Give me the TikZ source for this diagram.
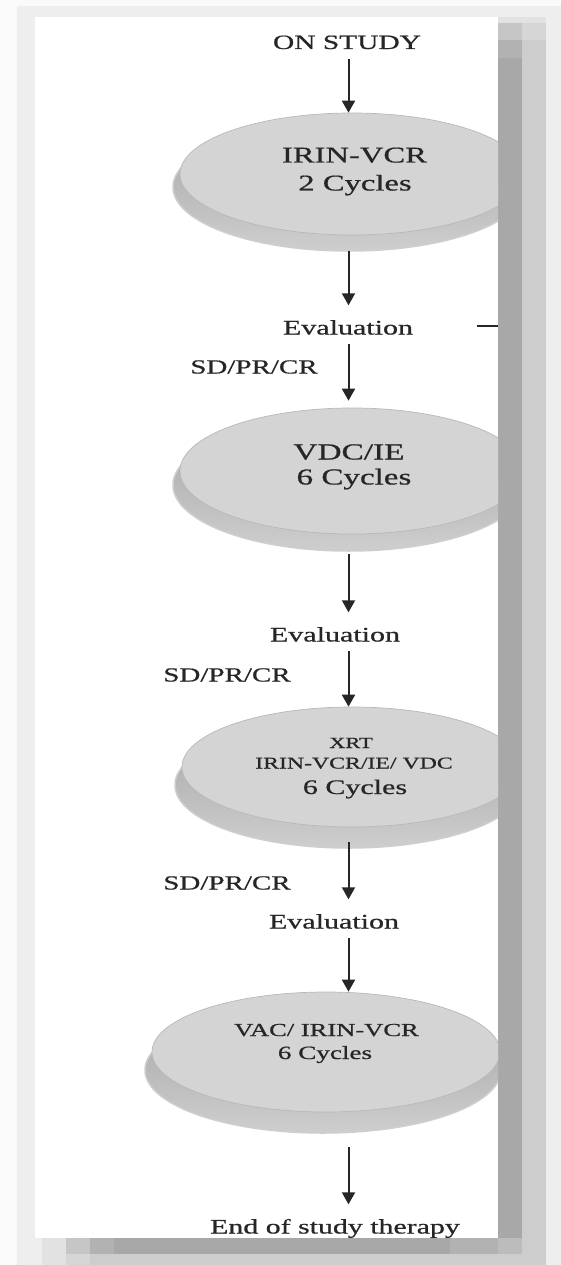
\documentclass[tikz,border=0pt]{standalone}
\usepackage{fontspec}
\setmainfont{Liberation Serif}[RawFeature={embolden=0.6}]
\usepackage{graphicx}
\usetikzlibrary{arrows.meta,shapes.geometric}

\definecolor{ink}{HTML}{262626}
\definecolor{facegray}{HTML}{D4D4D4}
\definecolor{edgegray}{HTML}{B8B8B8}
\definecolor{rimgray}{HTML}{C2C2C2}
\definecolor{rimedge}{HTML}{CECECE}
\definecolor{sh0}{HTML}{FAFAFA}
\definecolor{sh1}{HTML}{EEEEEE}
\definecolor{sh2}{HTML}{E2E2E2}
\definecolor{sh3}{HTML}{D6D6D6}
\definecolor{sh4}{HTML}{CDCDCD}
\definecolor{sh5}{HTML}{C6C6C6}
\definecolor{sh6}{HTML}{B2B2B2}
\definecolor{sh7}{HTML}{A8A8A8}
\definecolor{sh8}{HTML}{BCBCBC}

% horizontally widened lettering
\newcommand\wide[1]{\scalebox{1.45}[1]{#1}}
\newcommand\fsz[1]{\fontsize{#1}{#1}\selectfont}

\tikzset{
  txt/.style={inner sep=0pt, anchor=base, text=ink, text height=29pt, text depth=9.5pt},
  disktxt/.style={inner sep=0pt, anchor=base, text=ink},
  face/.style={ellipse, inner sep=0pt, fill=facegray, draw=edgegray, line width=0.7pt},
  rim/.style={top color=rimgray!85!black, bottom color=rimedge, draw=rimedge, line width=1.5pt},
  arr/.style={draw=ink, line width=2pt, -{Triangle[length=12pt,width=13pt]}},
}

\begin{document}
\begin{tikzpicture}[x=1pt,y=-1pt]
\useasboundingbox (0,0) rectangle (561,1265);

% page background and drop shadow of the panel
\fill[sh0] (0,0) rectangle (561,1265);
\fill[sh1] (17,6) rectangle (561,1265);
\fill[sh2] (42,17) rectangle (546,1265);
\fill[sh3] (66,23) rectangle (546,1265);
\fill[sh4] (90,40) rectangle (546,1265);
\fill[sh5] (66,23) rectangle (522,1254);
\fill[sh6] (90,40) rectangle (522,1254);
\fill[sh7] (114,58) rectangle (522,1254);
\fill[sh6] (450,1238) rectangle (498,1254);
\fill[sh8] (498,1238) rectangle (522,1254);

% white panel
\fill[white] (35,17) rectangle (498,1238);

\begin{scope}
\clip (35,17) rectangle (498,1238);

% disk 1
\path[rim] (349,187) ellipse [x radius=176, y radius=64];
\node[face, minimum width=344pt, minimum height=122pt] (e1) at (352,174) {};
% disk 2
\path[rim] (349,485) ellipse [x radius=176, y radius=66];
\node[face, minimum width=344pt, minimum height=126pt] (e2) at (352,471) {};
% disk 3
\path[rim] (349,785) ellipse [x radius=174, y radius=63];
\node[face, minimum width=340pt, minimum height=120pt] (e3) at (352,767) {};
% disk 4
\path[rim] (323,1070) ellipse [x radius=178, y radius=63];
\node[face, minimum width=348pt, minimum height=120pt] (e4) at (326,1052) {};

% disk captions
\node[disktxt, font=\fsz{22.5}] (e1a) at (354.5,162.5) {\wide{IRIN-VCR}};
\node[disktxt, font=\fsz{22.5}] (e1b) at (355,190.5) {\wide{2 Cycles}};
\node[disktxt, font=\fsz{23}] (e2a) at (349,459.5) {\wide{VDC/IE}};
\node[disktxt, font=\fsz{22.8}] (e2b) at (354,484.5) {\wide{6 Cycles}};
\node[disktxt, font=\fsz{15.5}] (e3a) at (351,748) {\wide{XRT}};
\node[disktxt, font=\fsz{16.4}] (e3b) at (354,768.5) {\wide{IRIN-VCR/IE/ VDC}};
\node[disktxt, font=\fsz{20.7}] (e3c) at (355,794) {\wide{6 Cycles}};
\node[disktxt, font=\fsz{18.3}] (e4a) at (326.5,1036) {\wide{VAC/ IRIN-VCR}};
\node[disktxt, font=\fsz{18.7}] (e4b) at (325,1059) {\wide{6 Cycles}};

% free-standing labels
\node[txt, font=\fsz{20.3}] (on)  at (347,49)     {\wide{ON STUDY}};
\node[txt, font=\fsz{20.7}] (ev1) at (348,334.5)  {\wide{Evaluation}};
\node[txt, font=\fsz{20}]   (sd1) at (254,373.5)  {\wide{SD/PR/CR}};
\node[txt, font=\fsz{20.7}] (ev2) at (335,641.5)  {\wide{Evaluation}};
\node[txt, font=\fsz{20}]   (sd2) at (227,681.5)  {\wide{SD/PR/CR}};
\node[txt, font=\fsz{20}]   (sd3) at (227,889.5)  {\wide{SD/PR/CR}};
\node[txt, font=\fsz{20.7}] (ev3) at (334,928.5)  {\wide{Evaluation}};
\node[txt, font=\fsz{20.6}] (end) at (335,1233.5) {\wide{End of study therapy}};

% vertical flow
\coordinate (spine) at (348.5,0);
\draw[arr] (on.south -| spine) -- (e1.north -| spine);
\draw[arr, shorten <=16pt] (e1.south -| spine) -- (ev1.north -| spine);
\draw[arr, shorten >=7pt] (ev1.south -| spine) -- (e2.north -| spine);
\draw[arr, shorten <=20pt] (e2.south -| spine) -- (ev2.north -| spine);
\draw[arr] (ev2.south -| spine) -- (e3.north -| spine);
\draw[arr, shorten <=15pt] (e3.south -| spine) -- (ev3.north -| spine);
\draw[arr] (ev3.south -| spine) -- (e4.north -| spine);
\draw[arr, shorten <=35pt] (e4.south -| spine) -- (end.north -| spine);

% branch leaving the first evaluation to the right
\coordinate (sidea) at (477,326);
\coordinate (sideb) at (498,326);
\draw[ink, line width=1.2pt] (sidea) -- (sideb);
\end{scope}
\end{tikzpicture}
\end{document}
